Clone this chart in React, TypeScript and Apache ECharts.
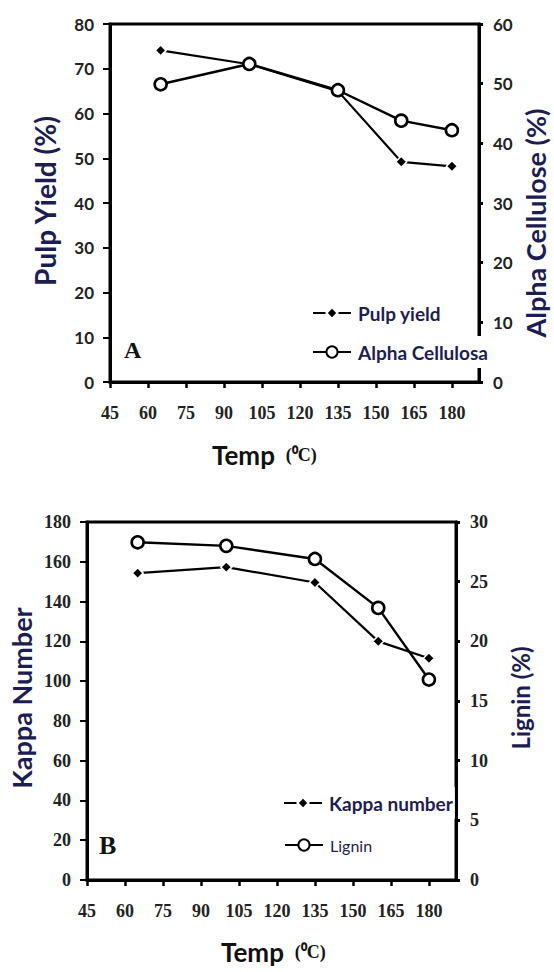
import React, { useEffect, useRef } from 'react';
import * as echarts from 'echarts';

// Temperatures (°C)
const temps = [65, 100, 135, 160, 180];
// Chart A
const pulpYield = [74.1, 71.0, 65.0, 49.2, 48.2];
const alphaCellulose = [49.9, 53.3, 48.9, 43.8, 42.2];
// Chart B
const kappaNumber = [154.3, 157.3, 149.6, 120.0, 111.5];
const lignin = [28.3, 28.0, 26.9, 22.8, 16.8];

const xMin = 45;
const xMax = 190.7;
const xInterval = 15;

const TITLE_COLOR = '#1d1d52';
const LABEL_COLOR = '#222';

const pairs = (ys: number[]) => temps.map((t, i) => [t, ys[i]]);

function mkX(gridIndex: number) {
  return {
    type: 'value',
    gridIndex,
    min: xMin,
    max: xMax,
    interval: xInterval,
    axisLine: { show: true, lineStyle: { color: '#000', width: 3 } },
    axisTick: { show: true, length: 6, lineStyle: { color: '#000', width: 2.5 } },
    axisLabel: {
      showMaxLabel: false,
      margin: 22,
      color: LABEL_COLOR,
      fontFamily: 'Liberation Serif',
      fontWeight: 'bold',
      fontSize: 18,
    },
    splitLine: { show: false },
  };
}

function mkY(gridIndex: number, position: string, max: number, interval: number, serif: boolean) {
  const left = position === 'left';
  return {
    type: 'value',
    gridIndex,
    position,
    min: 0,
    max,
    interval,
    axisLine: { show: true, lineStyle: { color: '#000', width: 3 } },
    axisTick: { show: true, length: left ? 7 : 4, lineStyle: { color: '#000', width: left ? 2 : 3 } },
    axisLabel: {
      margin: left ? 16 : 14,
      color: LABEL_COLOR,
      fontFamily: serif ? 'Liberation Serif' : 'Lato',
      fontWeight: 'bold',
      fontSize: serif ? 18 : 17,
    },
    splitLine: { show: false },
  };
}

function diamondSeries(name: string, xi: number, yi: number, ys: number[]) {
  return {
    name,
    type: 'line',
    xAxisIndex: xi,
    yAxisIndex: yi,
    data: pairs(ys),
    symbol: 'diamond',
    symbolSize: 11,
    itemStyle: { color: '#000', borderColor: '#fff', borderWidth: 1.5 },
    lineStyle: { color: '#000', width: 2.2 },
    z: 3,
  };
}

function circleSeries(name: string, xi: number, yi: number, ys: number[]) {
  return {
    name,
    type: 'line',
    xAxisIndex: xi,
    yAxisIndex: yi,
    data: pairs(ys),
    symbol: 'circle',
    symbolSize: 12,
    itemStyle: { color: '#fff', borderColor: '#000', borderWidth: 2.6 },
    lineStyle: { color: '#000', width: 2.4 },
    z: 4,
  };
}

function mkLegend(name: string, left: number, centerY: number, small = false) {
  return {
    data: [name],
    left,
    top: centerY - 16,
    padding: 0,
    itemWidth: 38,
    itemHeight: 14,
    itemGap: 0,
    selectedMode: false,
    z: 10,
    textStyle: {
      fontFamily: 'Lato',
      fontWeight: small ? 'normal' : 'bold',
      fontSize: small ? 16 : 19,
      color: TITLE_COLOR,
      backgroundColor: '#fff',
      padding: [6, 2],
      lineHeight: 20,
    },
  };
}

function vTitle(text: string, x: number, y: number, size: number) {
  return {
    type: 'text',
    x,
    y,
    rotation: Math.PI / 2,
    style: {
      text,
      fill: TITLE_COLOR,
      font: `bold ${size}px Lato`,
      textAlign: 'center',
      textVerticalAlign: 'middle',
    },
  };
}

function tempTitle(x: number, y: number) {
  return {
    type: 'text',
    x,
    y,
    style: {
      text: '{a|Temp }{b| (⁰C)}',
      textVerticalAlign: 'middle',
      rich: {
        a: { font: 'bold 26px Lato', fill: '#111' },
        b: { font: 'bold 18px Liberation Serif', fill: '#111' },
      },
    },
  };
}

function panelLetter(text: string, x: number, y: number, size: number) {
  return {
    type: 'text',
    x,
    y,
    style: {
      text,
      fill: '#111',
      font: `bold ${size}px Liberation Serif`,
      textVerticalAlign: 'middle',
    },
  };
}

export default function App() {
  const ref = useRef<HTMLDivElement>(null);
  useEffect(() => {
    document.body.style.margin = '0';
    const chart = echarts.init(ref.current!, null, { renderer: 'svg' });
    const option = {
      animation: false,
      backgroundColor: '#fff',
      grid: [
        { left: 110, top: 24, width: 369, height: 358, show: true, borderColor: '#000', borderWidth: 3, backgroundColor: 'transparent' },
        { left: 87, top: 522, width: 369, height: 358, show: true, borderColor: '#000', borderWidth: 3, backgroundColor: 'transparent' },
      ],
      xAxis: [mkX(0), mkX(1)],
      yAxis: [
        mkY(0, 'left', 80, 10, false),
        mkY(0, 'right', 60, 10, false),
        mkY(1, 'left', 180, 20, true),
        mkY(1, 'right', 30, 5, true),
      ],
      legend: [
        mkLegend('Pulp yield', 312, 313),
        mkLegend('Alpha Cellulosa', 312, 352),
        mkLegend('Kappa number', 283, 803),
        mkLegend('Lignin', 284, 845, true),
      ],
      series: [
        diamondSeries('Pulp yield', 0, 0, pulpYield),
        circleSeries('Alpha Cellulosa', 0, 1, alphaCellulose),
        diamondSeries('Kappa number', 1, 2, kappaNumber),
        circleSeries('Lignin', 1, 3, lignin),
      ],
      graphic: [
        vTitle('Pulp Yield (%)', 45, 201, 28),
        vTitle('Alpha Cellulose (%)', 535, 223, 27),
        vTitle('Kappa Number', 21, 698, 27),
        vTitle('Lignin (%)', 520, 698, 24),
        tempTitle(212, 455),
        tempTitle(221, 952),
        panelLetter('A', 124, 350, 24),
        panelLetter('B', 99, 845, 26),
      ],
    };
    chart.setOption(option as any);
    return () => chart.dispose();
  }, []);
  return <div ref={ref} style={{ width: 554, height: 972 }} />;
}
